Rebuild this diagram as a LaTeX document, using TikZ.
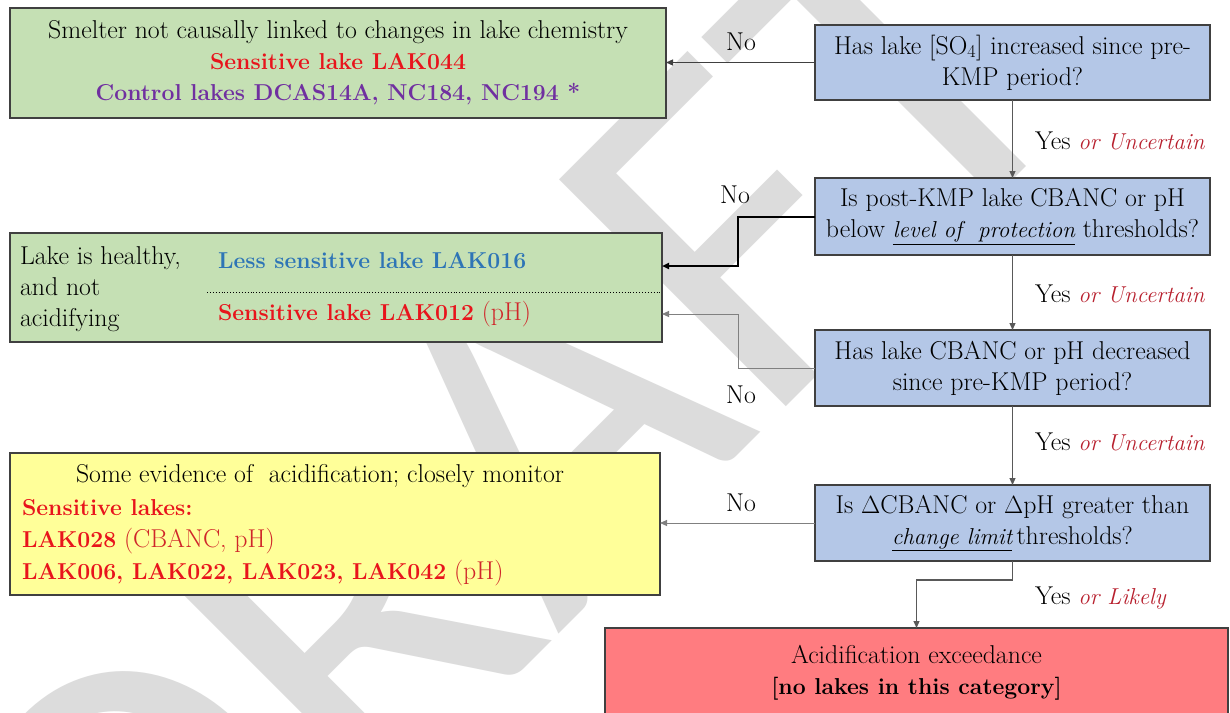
\documentclass[tikz,border=0pt]{standalone}
\usepackage{fontspec}
\newfontfamily\wmfont{Carlito}
\usetikzlibrary{arrows.meta}
\definecolor{gfill}{HTML}{C5E0B4}
\definecolor{bfill}{HTML}{B4C7E7}
\definecolor{yfill}{HTML}{FFFF99}
\definecolor{rfill}{HTML}{FF7C80}
\definecolor{edge}{HTML}{404040}
\definecolor{txtred}{HTML}{E8141C}
\definecolor{parred}{HTML}{D0262A}
\definecolor{itred}{HTML}{B8202E}
\definecolor{purp}{HTML}{7030A0}
\definecolor{lblue}{HTML}{2E75B6}
\definecolor{wm}{HTML}{DCDCDC}
\newcommand\mainfs{\rmfamily\fontsize{25.8}{31}\selectfont}
\newcommand\bt[1]{{\fontsize{23}{31}\selectfont\bfseries #1}}
\newcommand\itr[1]{{\fontsize{23}{31}\selectfont\itshape #1}}
\begin{document}
\begin{tikzpicture}[x=1pt,y=-1pt,
  every node/.style={inner sep=0pt, outer sep=0pt},
  box/.style={draw=edge, line width=1.3pt, anchor=north west, align=center, font=\mainfs},
  txt/.style={font=\mainfs, anchor=west},
  lbl/.style={font=\mainfs},
  tip/.style={-{Triangle[length=7pt,width=6pt]}},
  connA/.style={tip, draw=edge, line width=1.3pt},
  connB/.style={tip, draw=black, line width=2pt},
  connC/.style={tip, draw=black!50, line width=1pt},
  connV/.style={tip, draw=black!65, line width=1.1pt}]
\useasboundingbox (0,0) rectangle (1230,712);
\clip (0,0) rectangle (1230,712);
\fill[white] (0,0) rectangle (1230,712);
% watermark
\node[rotate=45, font=\wmfont\fontsize{500}{500}\selectfont, text=wm] (wmark) at (509,457) {DRAFT};
% boxes
\node[box, fill=gfill, minimum width=656pt, minimum height=110pt] (b1) at (10,8)
  {Smelter not causally linked to changes in lake chemistry\\
   \textcolor{txtred}{\bt{Sensitive lake LAK044}}\\
   \textcolor{purp}{\bt{Control lakes DCAS14A, NC184, NC194 *}}};
\node[box, fill=bfill, minimum width=395pt, minimum height=75pt] (q1) at (815,25)
  {Has lake [SO\textsubscript{4}] increased since pre-\\KMP period?};
\node[box, fill=bfill, minimum width=395pt, minimum height=77pt] (q2) at (815,178)
  {Is post-KMP lake CBANC or pH\\below \underline{\itr{level of\ \ protection}} thresholds?};
\node[box, fill=bfill, minimum width=395pt, minimum height=76pt] (q3) at (815,330)
  {Has lake CBANC or pH decreased\\since pre-KMP period?};
\node[box, fill=bfill, minimum width=395pt, minimum height=76pt] (q4) at (815,485)
  {Is $\Delta$CBANC or $\Delta$pH greater than\\\underline{\itr{change limit}}\,thresholds?};
\node[box, fill=gfill, minimum width=652pt, minimum height=109pt] (b2) at (10,233) {};
\node[box, fill=yfill, minimum width=650pt, minimum height=142pt] (yb) at (10,453) {};
\node[box, fill=rfill, minimum width=623pt, minimum height=90pt] (rb) at (605,628)
  {Acidification exceedance\\\bt{[no lakes in this category]}};
% box 2 contents
\node[txt, align=left, anchor=north west] (b2l) at (20,247)
  {Lake is healthy,\\and not\\acidifying};
\node[txt] (b2r1) at (218,261) {\textcolor{lblue}{\bt{Less sensitive lake LAK016}}};
\node[txt] (b2r2) at (218,314) {\textcolor{txtred}{\bt{Sensitive lake LAK012}} \textcolor{parred}{(pH)}};
\coordinate (d1) at (207,292);
\coordinate (d2) at (662,292);
\draw[dotted, line width=0.9pt] (d1) -- (d2);
% yellow contents
\node[lbl] (y1) at (320,476) {Some evidence of\ \ acidification; closely monitor};
\node[txt] (y2) at (22,508) {\textcolor{txtred}{\bt{Sensitive lakes:}}};
\node[txt] (y3) at (22,541) {\textcolor{txtred}{\bt{LAK028}} \textcolor{parred}{(CBANC, pH)}};
\node[txt] (y4) at (22,573) {\textcolor{txtred}{\bt{LAK006, LAK022, LAK023, LAK042}} \textcolor{parred}{(pH)}};
% labels
\node[lbl] (n1) at (741,42) {No};
\node[lbl] (n2) at (735,195) {No};
\node[lbl] (n3) at (741,395) {No};
\node[lbl] (n4) at (741,503) {No};
\node[txt] (l1) at (1035,141) {Yes \textcolor{itred}{\itr{or Uncertain}}};
\node[txt] (l2) at (1035,294) {Yes \textcolor{itred}{\itr{or Uncertain}}};
\node[txt] (l3) at (1035,442) {Yes \textcolor{itred}{\itr{or Uncertain}}};
\node[txt] (l4) at (1035,598) {Yes \textcolor{itred}{\itr{or Likely}}};
% connectors
\coordinate (b2a) at (662,266);
\coordinate (b2b) at (662,314);
\draw[connA] (q1.west) -- (q1.west -| b1.east);
\draw[connB] (q2.west) -- ++(-77,0) |- (b2a);
\draw[connC] (q3.west) -- ++(-77,0) |- (b2b);
\draw[connC] (q4.west) -- (q4.west -| yb.east);
\draw[connV] (q1.south) -- (q2.north);
\draw[connV] (q2.south) -- (q3.north);
\draw[connV] (q3.south) -- (q4.north);
\draw[connV] (q4.south) -- ++(0,19) -| (rb.north);
\end{tikzpicture}
\end{document}
